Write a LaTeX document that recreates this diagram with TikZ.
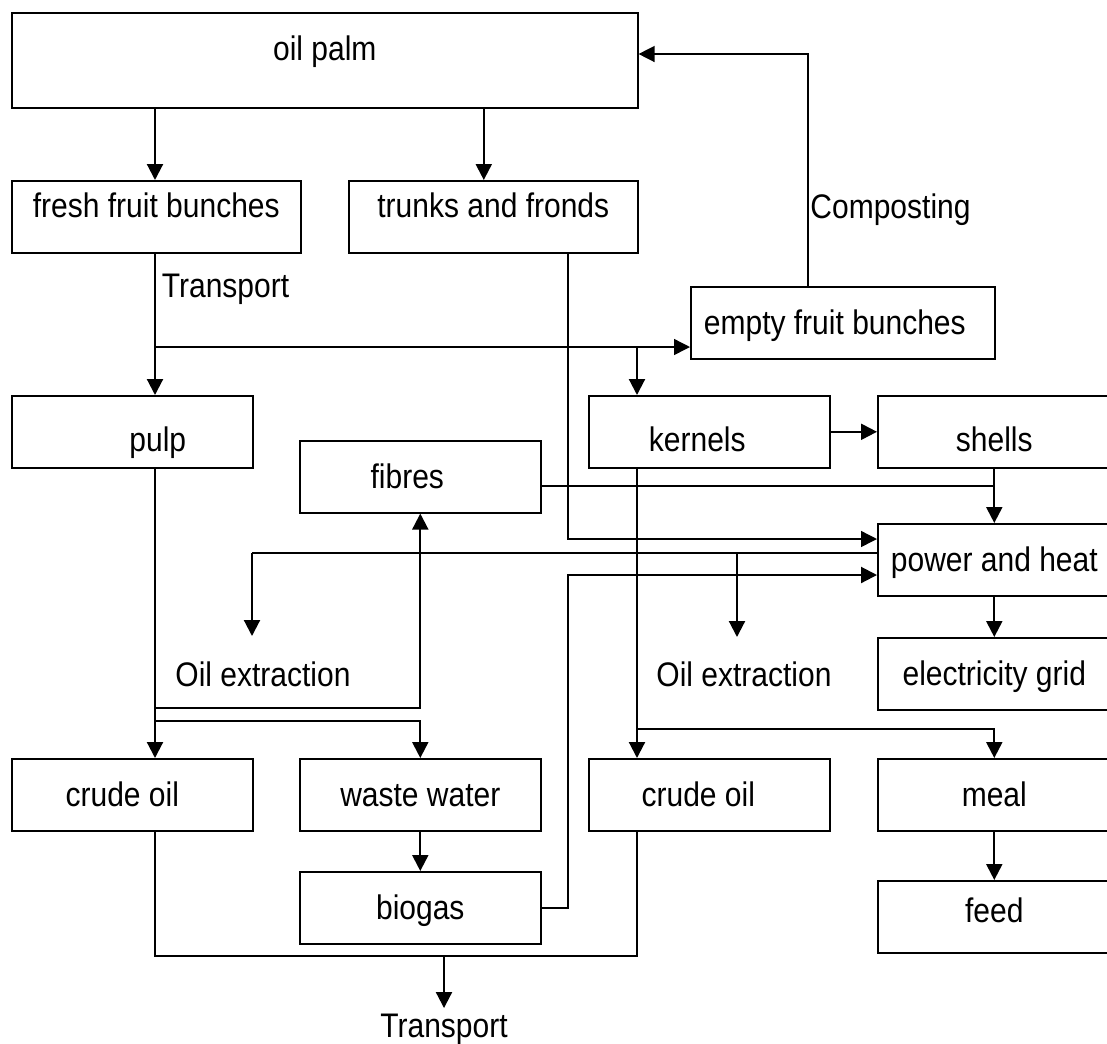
\documentclass[tikz,border=0pt]{standalone}
\usepackage{fontspec}
\setmainfont{Liberation Sans}[FakeStretch=0.88]
\usetikzlibrary{arrows.meta,calc}

\begin{document}
\begin{tikzpicture}[font=\fontsize{19.4}{23}\selectfont,>={Triangle[length=.32cm,width=.32cm]}]
\tikzset{box/.style={draw,line width=.9pt,anchor=north west,minimum width=4.82cm,minimum height=1.44cm,inner ysep=.1cm,text height=.48cm,text depth=0pt},
  raised/.style={text depth=.46cm},
  lowered/.style={text height=.80cm},
  wide/.style={minimum width=4.66cm},
  flow/.style={->,line width=1.2pt},
  thinflow/.style={->,line width=.8pt},
  link/.style={line width=.8pt}}
\useasboundingbox (0,0) rectangle (22.14,-20.86);

\node[box,raised,minimum width=12.52cm,minimum height=1.90cm] (palm) at (.22,-.24) {oil palm};
\node[box,raised,minimum width=5.78cm] (ffb) at (.22,-3.60) {fresh fruit bunches};
\node[box,raised,minimum width=5.78cm] (trunks) at (6.96,-3.60) {trunks and fronds};
\node[box,minimum width=6.08cm] (efb) at (13.80,-5.72) {empty fruit bunches\hspace*{.32cm}};
\node[box,lowered] (pulp) at (.22,-7.90) {\hspace*{1.02cm}pulp};
\node[box,lowered] (kernels) at (11.76,-7.90) {kernels\hspace*{.48cm}};
\node[box,lowered,wide] (shells) at (17.54,-7.90) {shells};
\node[box] (fibres) at (5.98,-8.80) {fibres\hspace*{.52cm}};
\node[box,wide] (power) at (17.54,-10.46) {power and heat};
\node[box,wide] (grid) at (17.54,-12.74) {electricity grid};
\node[box] (crude1) at (.22,-15.16) {crude oil\hspace*{.40cm}};
\node[box] (waste) at (5.98,-15.16) {waste water};
\node[box] (crude2) at (11.76,-15.16) {crude oil\hspace*{.44cm}};
\node[box,wide] (meal) at (17.54,-15.16) {meal};
\node[box] (biogas) at (5.98,-17.42) {biogas};
\node[box,wide,text depth=.24cm] (feed) at (17.54,-17.60) {feed};

\node (oilx1) at (5.26,-13.49) {Oil extraction};
\node (oilx2) at (14.88,-13.49) {Oil extraction};
\node (tport) at (8.88,-20.59) {Transport};

\coordinate (split) at (3.10,-6.94);
\coordinate (kcol) at (12.74,-6.94);
\coordinate (cturn) at (16.16,-1.08);
\coordinate (tturn) at (11.36,-10.78);
\coordinate (bturn) at (11.36,-11.50);
\coordinate (hturn) at (5.04,-11.06);
\coordinate (hfork) at (14.74,-11.06);
\coordinate (oilend1) at (5.04,-12.72);
\coordinate (oilend2) at (14.74,-12.74);
\coordinate (fork1) at (3.10,-14.16);
\coordinate (fork2) at (3.10,-14.42);
\coordinate (fork3) at (12.74,-14.58);
\coordinate (coll) at (8.88,-19.12);

\draw[flow] (split |- palm.south) -- (split |- ffb.north);
\draw[flow] ([xshift=-.19cm]trunks.north |- palm.south) -- ([xshift=-.19cm]trunks.north);
\draw[flow] (split |- ffb.south) -- (split |- pulp.north) node[pos=.25,right] {Transport};
\draw[thinflow] (split) -- (split -| efb.west);
\draw[flow] (kcol) -- (kcol |- kernels.north);
\draw[thinflow] (cturn |- efb.north) -- (cturn) node[pos=.33,right,inner xsep=1pt] {Composting} -- (cturn -| palm.east);

\draw[flow] (kernels.east) -- (shells.west);
\draw[link] ([yshift=-.18cm]fibres.east) -- ([yshift=-.18cm]fibres.east -| shells.south);
\draw[flow] (shells.south) -- (power.north);
\draw[thinflow] (tturn |- trunks.south) -- (tturn) -- (tturn -| power.west);
\draw[link] (hturn -| power.west) -- (hturn);
\draw[flow] (hturn) -- (oilend1);
\draw[flow] (hfork) -- (oilend2);
\draw[flow] (biogas.east) -| (bturn) -- (bturn -| power.west);
\draw[flow] (power.south) -- (grid.north);

\draw[flow] (split |- pulp.south) -- (split |- crude1.north);
\draw[flow] (fork1) -| (fibres.south);
\draw[flow] (fork2) -| (waste.north);
\draw[flow] (waste.south) -- (biogas.north);
\draw[flow] (kcol |- kernels.south) -- (kcol |- crude2.north);
\draw[flow] (fork3) -| (meal.north);
\draw[flow] (meal.south) -- (feed.north);

\draw[link] (split |- crude1.south) |- (coll) -| (kcol |- crude2.south);
\draw[flow] (coll) -- (coll |- tport.north);
\end{tikzpicture}
\end{document}
